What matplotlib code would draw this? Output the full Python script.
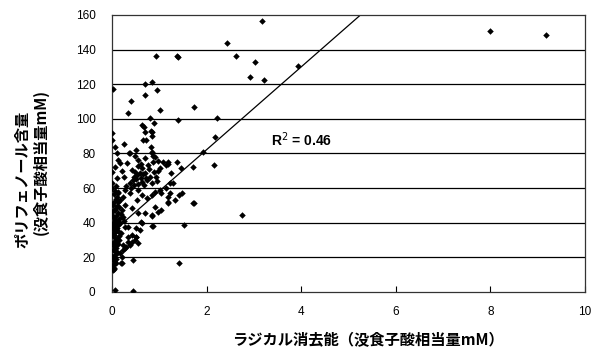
import numpy as np
import matplotlib
matplotlib.use('Agg')
import matplotlib.pyplot as plt

plt.rcParams['font.family'] = ['Noto Sans CJK JP', 'DejaVu Sans']

# radical scavenging (gallic acid eq. mM) vs polyphenol content (gallic acid eq. mM)
radical_x = [
    8.0, 9.17, 3.17, 2.43, 2.61, 3.01, 2.92, 3.21, 3.93,
    0.93, 1.36, 1.40, 0.02, 0.69, 0.83, 0.94, 0.69, 0.39, 0.33, 1.00, 1.72, 0.80, 0.89, 1.40, 2.22,
    0.63, 0.68, 0.69, 0.84, 0.85, 0.81, 0.0, 0.0, 0.65, 0.72, 2.18, 0.24, 0.51, 0.36, 0.81, 0.84, 0.87, 1.91,
    0.37, 0.83, 0.90, 0.97, 1.07, 1.18, 1.14, 1.36, 0.86, 0.13, 0.16, 0.06, 0.55, 0.55, 0.62, 0.49, 0.46,
    0.58, 0.69, 0.51, 0.62, 0.46, 0.37, 0.74, 0.79, 0.67, 0.83, 0.93, 0.97, 1.25, 1.46, 1.71, 0.0, 0.09, 0.0,
    0.13, 0.27, 0.37, 0.55, 0.62, 0.52, 0.73, 0.83, 0.90, 1.01, 1.04, 1.18, 1.22, 1.18, 1.33, 1.48, 1.71,
    0.90, 1.03, 0.83, 0.69, 0.55, 0.41, 0.27, 0.13, 0.06, 0.0, 0.20,
    2.15, 1.73, 2.74, 1.52, 1.41, 0.44,
    1.17, 1.01, 1.22, 1.29, 1.14, 1.42, 1.17,
    0.83, 0.85, 0.61, 0.59, 0.97, 0.62, 0.87, 0.34, 0.51,
    0.34, 0.41, 0.48, 0.51, 0.41, 0.23, 0.30, 0.43, 0.20, 0.09, 0.23, 0.13, 0.20, 0.23, 0.27,
    0.55, 0.34, 0.37, 0.27, 0.16, 0.20, 0.18, 0.51,
    0.42, 0.52, 0.60, 0.55, 0.44, 0.65, 0.72, 0.78, 0.88, 0.60, 0.70, 0.48, 0.75, 0.95, 0.40, 0.30,
    0.25, 0.20, 0.32, 0.10, 0.05,
    0.02, 0.04, 0.01, 0.06, 0.03, 0.08, 0.00, 0.05, 0.10, 0.02, 0.07, 0.04, 0.12, 0.01, 0.06, 0.09,
    0.03, 0.14, 0.00, 0.05, 0.08, 0.02, 0.11, 0.04, 0.07, 0.01, 0.10, 0.05, 0.15, 0.03, 0.08, 0.12,
    0.02, 0.06, 0.09, 0.01, 0.04, 0.07, 0.11, 0.03, 0.05, 0.00, 0.08, 0.02, 0.06, 0.03, 0.09, 0.05,
    0.02, 0.07, 0.04, 0.13, 0.16, 0.18, 0.14, 0.17, 0.12, 0.22, 0.25, 0.19, 0.15, 0.05,
]
polyphenol_y = [
    150.5, 148.5, 156.5, 143.7, 136.6, 132.9, 124.3, 122.5, 130.6,
    136.4, 136.2, 135.6, 117.0, 120.2, 121.2, 116.8, 113.7, 110.1, 103.3, 105.4, 106.8, 100.5, 97.9, 99.4, 100.6,
    96.4, 95.5, 92.2, 92.7, 89.9, 93.0, 92.0, 88.0, 87.9, 87.9, 89.8, 85.2, 82.0, 80.0, 84.0, 81.1, 78.6, 81.1,
    80.2, 80.2, 77.9, 75.9, 75.3, 75.3, 73.4, 75.0, 75.3, 76.3, 74.4, 72.4, 76.3, 72.8, 71.5, 69.5, 66.6,
    68.6, 69.0, 65.1, 63.8, 61.8, 63.2, 64.7, 66.6, 61.8, 62.8, 66.6, 70.1, 68.6, 71.5, 72.4, 69.5, 65.7, 62.8,
    58.0, 59.0, 57.0, 59.0, 56.1, 53.2, 54.2, 56.1, 58.0, 59.0, 57.0, 55.1, 57.0, 51.3, 53.2, 57.0, 51.6,
    49.3, 47.4, 44.5, 45.5, 45.5, 48.4, 50.3, 52.2, 47.4, 44.5, 43.5,
    73.4, 51.3, 44.5, 38.7, 16.9, 0.3,
    73.8, 71.5, 62.8, 62.8, 59.9, 56.1, 52.2,
    43.9, 38.2, 40.6, 35.8, 46.4, 40.0, 38.2, 37.7, 36.8,
    32.0, 32.9, 30.0, 31.6, 29.1, 27.2, 26.2, 18.5, 16.6, 22.4, 24.3, 38.7, 47.4, 43.5, 37.7,
    28.5, 29.1, 27.2, 25.3, 22.4, 20.4, 16.6, 32.0,
    70.5, 67.5, 66.0, 62.5, 64.5, 68.0, 66.0, 70.8, 69.5, 74.2, 77.5, 78.8, 73.5, 64.0, 60.0, 61.5,
    66.5, 70.0, 74.5, 80.5, 84.0,
    12.5, 14.0, 15.5, 16.5, 18.0, 19.0, 20.5, 21.5, 23.0, 24.0, 25.5, 26.5, 27.5, 28.5, 29.5, 30.5,
    31.5, 32.5, 33.5, 34.5, 35.5, 36.5, 37.0, 38.0, 39.0, 40.0, 40.5, 41.5, 42.0, 43.0, 44.0, 45.5,
    46.5, 48.0, 49.5, 50.5, 52.0, 53.5, 55.0, 56.5, 58.5, 60.0, 61.5, 38.5, 36.0, 33.0, 28.0, 23.5,
    19.5, 17.0, 13.5, 35.0, 40.0, 45.0, 49.0, 53.0, 57.0, 55.0, 41.0, 34.0, 30.0, 1.0,
]

x_ticks = [0, 2, 4, 6, 8, 10]
y_ticks = [0, 20, 40, 60, 80, 100, 120, 140, 160]

# linear trendline
trend_slope = 23.9
trend_intercept = 34.5
r_squared = 0.46

fig = plt.figure(figsize=(6.03, 3.52), dpi=100)
ax = fig.add_axes([0.1862, 0.1705, 0.7838, 0.7869])

for yt in y_ticks[1:-1]:
    ax.axhline(yt, color='black', linewidth=0.9, zorder=1)

ax.scatter(radical_x, polyphenol_y, marker='D', s=11, color='black', linewidths=0, zorder=3)

tx = np.array([0, max(radical_x)])
ax.plot(tx, trend_slope * tx + trend_intercept, color='black', linewidth=0.9, zorder=2)

ax.text(3.35, 88, 'R$^2$ = %.2f' % r_squared, fontsize=10, fontweight='bold',
        family='Liberation Sans', va='center', ha='left')

ax.set_xlim(0, 10)
ax.set_ylim(0, 160)
ax.set_xticks(x_ticks)
ax.set_yticks(y_ticks)
ax.tick_params(direction='in', length=4, width=0.8, labelsize=8.5)
ax.tick_params(axis='y', length=0, pad=12)
ax.tick_params(axis='x', pad=10)
for lbl in ax.get_xticklabels() + ax.get_yticklabels():
    lbl.set_family('Liberation Sans')
for s in ax.spines.values():
    s.set_linewidth(0.9)
    s.set_color('#333333')

ax.set_xlabel('ラジカル消去能（没食子酸相当量mM）', fontsize=11, fontweight='bold')
ax.xaxis.set_label_coords(0.54, -0.145)
fig.text(0.038, 0.49, 'ポリフェノール含量', rotation=90, fontsize=11, fontweight='bold',
         ha='center', va='center')
fig.text(0.068, 0.54, '(没食子酸相当量mM)', rotation=90, fontsize=11, fontweight='bold',
         ha='center', va='center')

fig.savefig('out.png', dpi=100)
